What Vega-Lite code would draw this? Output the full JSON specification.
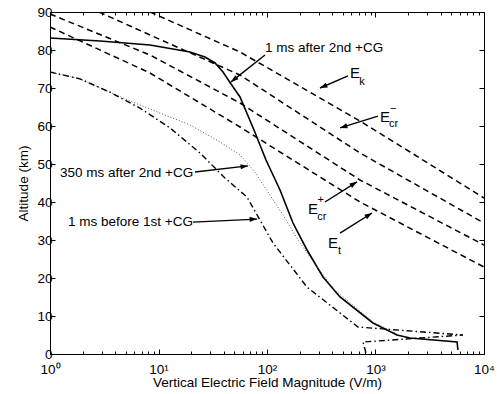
{
  "$schema": "https://vega.github.io/schema/vega-lite/v6.json",
  "width": 434,
  "height": 342,
  "autosize": {"type": "none"},
  "padding": {"left": 50, "top": 12, "right": 13, "bottom": 40},
  "background": "white",
  "config": {
    "view": {"stroke": "black", "strokeWidth": 1},
    "font": "Liberation Sans",
    "axis": {"domain": false, "grid": false, "labelFont": "Liberation Sans", "titleFont": "Liberation Sans", "labelColor": "black", "titleColor": "black", "tickColor": "black", "labelFontSize": 13.5, "titleFontSize": 13.5, "titleFontWeight": "normal", "labelOverlap": false, "labelBound": false, "labelFlush": false}
  },
  "datasets": {
    "curves": [
      {"s": "Ek", "style": "dash", "i": 0, "v": 8.35, "alt": 90},
      {"s": "Ek", "style": "dash", "i": 1, "v": 56.4, "alt": 79.47},
      {"s": "Ek", "style": "dash", "i": 2, "v": 719.7, "alt": 61.32},
      {"s": "Ek", "style": "dash", "i": 3, "v": 2080, "alt": 53.16},
      {"s": "Ek", "style": "dash", "i": 4, "v": 10000, "alt": 41.05},
      {"s": "Ecrm", "style": "dash", "i": 0, "v": 2.83, "alt": 90},
      {"s": "Ecrm", "style": "dash", "i": 1, "v": 8.35, "alt": 83.95},
      {"s": "Ecrm", "style": "dash", "i": 2, "v": 56.4, "alt": 73.42},
      {"s": "Ecrm", "style": "dash", "i": 3, "v": 719.7, "alt": 52.89},
      {"s": "Ecrm", "style": "dash", "i": 4, "v": 10000, "alt": 34.47},
      {"s": "Ecrp", "style": "dash", "i": 0, "v": 1, "alt": 89.47},
      {"s": "Ecrp", "style": "dash", "i": 1, "v": 8.35, "alt": 78.68},
      {"s": "Ecrp", "style": "dash", "i": 2, "v": 56.4, "alt": 66.05},
      {"s": "Ecrp", "style": "dash", "i": 3, "v": 719.7, "alt": 45.79},
      {"s": "Ecrp", "style": "dash", "i": 4, "v": 10000, "alt": 28.68},
      {"s": "Et", "style": "dash", "i": 0, "v": 1, "alt": 86.05},
      {"s": "Et", "style": "dash", "i": 1, "v": 8.35, "alt": 73.95},
      {"s": "Et", "style": "dash", "i": 2, "v": 56.4, "alt": 59.74},
      {"s": "Et", "style": "dash", "i": 3, "v": 719.7, "alt": 40},
      {"s": "Et", "style": "dash", "i": 4, "v": 10000, "alt": 22.89},
      {"s": "after2", "style": "solid", "i": 0, "v": 1, "alt": 83.16},
      {"s": "after2", "style": "solid", "i": 1, "v": 2.89, "alt": 82.37},
      {"s": "after2", "style": "solid", "i": 2, "v": 8.35, "alt": 81.32},
      {"s": "after2", "style": "solid", "i": 3, "v": 19.5, "alt": 79.47},
      {"s": "after2", "style": "solid", "i": 4, "v": 26.8, "alt": 78.16},
      {"s": "after2", "style": "solid", "i": 5, "v": 33.2, "alt": 76.58},
      {"s": "after2", "style": "solid", "i": 6, "v": 39.3, "alt": 74.21},
      {"s": "after2", "style": "solid", "i": 7, "v": 46.6, "alt": 71.05},
      {"s": "after2", "style": "solid", "i": 8, "v": 56.4, "alt": 67.63},
      {"s": "after2", "style": "solid", "i": 9, "v": 75.9, "alt": 58.95},
      {"s": "after2", "style": "solid", "i": 10, "v": 97.9, "alt": 51.05},
      {"s": "after2", "style": "solid", "i": 11, "v": 131.8, "alt": 43.16},
      {"s": "after2", "style": "solid", "i": 12, "v": 173.6, "alt": 34.47},
      {"s": "after2", "style": "solid", "i": 13, "v": 233.8, "alt": 27.37},
      {"s": "after2", "style": "solid", "i": 14, "v": 328.2, "alt": 20.26},
      {"s": "after2", "style": "solid", "i": 15, "v": 470.8, "alt": 15},
      {"s": "after2", "style": "solid", "i": 16, "v": 948, "alt": 8.16},
      {"s": "after2", "style": "solid", "i": 17, "v": 1578, "alt": 5},
      {"s": "after2", "style": "solid", "i": 18, "v": 2080, "alt": 4.21},
      {"s": "after2", "style": "solid", "i": 19, "v": 5640, "alt": 3.16},
      {"s": "after2", "style": "solid", "i": 20, "v": 5760, "alt": 1.05},
      {"s": "after350", "style": "dot", "i": 0, "v": 1, "alt": 74.2},
      {"s": "after350", "style": "dot", "i": 1, "v": 1.89, "alt": 72.4},
      {"s": "after350", "style": "dot", "i": 2, "v": 3.57, "alt": 68.9},
      {"s": "after350", "style": "dot", "i": 3, "v": 5.46, "alt": 66.6},
      {"s": "after350", "style": "dot", "i": 4, "v": 10.3, "alt": 63.4},
      {"s": "after350", "style": "dot", "i": 5, "v": 19.5, "alt": 60.3},
      {"s": "after350", "style": "dot", "i": 6, "v": 36.9, "alt": 55.8},
      {"s": "after350", "style": "dot", "i": 7, "v": 56.4, "alt": 52.4},
      {"s": "after350", "style": "dot", "i": 8, "v": 77.5, "alt": 47.9},
      {"s": "after350", "style": "dot", "i": 9, "v": 102.1, "alt": 42.6},
      {"s": "after350", "style": "dot", "i": 10, "v": 140.4, "alt": 36.6},
      {"s": "after350", "style": "dot", "i": 11, "v": 193.1, "alt": 30},
      {"s": "after350", "style": "dot", "i": 12, "v": 295, "alt": 22.6},
      {"s": "after350", "style": "dot", "i": 13, "v": 423.4, "alt": 16.8},
      {"s": "after350", "style": "dot", "i": 14, "v": 948, "alt": 8.4},
      {"s": "after350", "style": "dot", "i": 15, "v": 1578, "alt": 5.3},
      {"s": "before1", "style": "dashdot", "i": 0, "v": 1, "alt": 74.2},
      {"s": "before1", "style": "dashdot", "i": 1, "v": 1.89, "alt": 72.4},
      {"s": "before1", "style": "dashdot", "i": 2, "v": 3.57, "alt": 68.9},
      {"s": "before1", "style": "dashdot", "i": 3, "v": 6.75, "alt": 64.7},
      {"s": "before1", "style": "dashdot", "i": 4, "v": 12.76, "alt": 59.5},
      {"s": "before1", "style": "dashdot", "i": 5, "v": 24.1, "alt": 52.9},
      {"s": "before1", "style": "dashdot", "i": 6, "v": 41.0, "alt": 46.3},
      {"s": "before1", "style": "dashdot", "i": 7, "v": 65.4, "alt": 41.3},
      {"s": "before1", "style": "dashdot", "i": 8, "v": 113.6, "alt": 29.2},
      {"s": "before1", "style": "dashdot", "i": 9, "v": 233.8, "alt": 17.6},
      {"s": "before1", "style": "dashdot", "i": 10, "v": 470.8, "alt": 10.8},
      {"s": "before1", "style": "dashdot", "i": 11, "v": 690, "alt": 7.1},
      {"s": "before1", "style": "dashdot", "i": 12, "v": 6405, "alt": 5},
      {"s": "before1", "style": "dashdot", "i": 13, "v": 767, "alt": 3.16},
      {"s": "before1", "style": "dashdot", "i": 14, "v": 817.6, "alt": 0.26}
    ],
    "arrows": [
      {"x1": 95.9, "y1": 78.7, "x2": 46.6, "y2": 71.6},
      {"x1": 557.9, "y1": 73.2, "x2": 308, "y2": 70},
      {"x1": 1054, "y1": 62.6, "x2": 470.8, "y2": 59.5},
      {"x1": 342.4, "y1": 40, "x2": 675.2, "y2": 45.3},
      {"x1": 470.8, "y1": 31.8, "x2": 928.5, "y2": 37.1},
      {"x1": 21.7, "y1": 47.9, "x2": 66.8, "y2": 49.5},
      {"x1": 20.8, "y1": 34.7, "x2": 80.9, "y2": 35.5}
    ],
    "labels": [
      {"t": "1 ms after 2nd +CG", "x": 95.9, "y": 80.5},
      {"t": "350 ms after 2nd +CG", "x": 1.236, "y": 47.6},
      {"t": "1 ms before 1st +CG", "x": 1.465, "y": 34.7}
    ],
    "bigE": [
      {"t": "E", "x": 582, "y": 73.9},
      {"t": "E", "x": 1100, "y": 62.4},
      {"t": "E", "x": 238.8, "y": 38.2},
      {"t": "E", "x": 364.9, "y": 29.2}
    ],
    "subs": [
      {"t": "k", "x": 710, "y": 71.6},
      {"t": "cr", "x": 1330, "y": 60.4},
      {"t": "−", "x": 1360, "y": 64.6},
      {"t": "+", "x": 292, "y": 40.4},
      {"t": "cr", "x": 290, "y": 36.0},
      {"t": "t", "x": 452, "y": 27.0}
    ]
  },
  "layer": [
    {
      "data": {"name": "curves"},
      "transform": [{"filter": "datum.style == 'dash'"}],
      "mark": {"type": "line", "strokeDash": [6, 4], "strokeWidth": 1.5, "color": "black", "clip": true},
      "encoding": {
        "x": {"field": "v", "type": "quantitative", "scale": {"type": "log", "domain": [1, 10000]},
          "axis": {"orient": "bottom", "title": "Vertical Electric Field Magnitude (V/m)",
            "values": [1,2,3,4,5,6,7,8,9,10,20,30,40,50,60,70,80,90,100,200,300,400,500,600,700,800,900,1000,2000,3000,4000,5000,6000,7000,8000,9000,10000],
            "labelExpr": "datum.value == 1 ? '10⁰' : datum.value == 10 ? '10¹' : datum.value == 100 ? '10²' : datum.value == 1000 ? '10³' : datum.value == 10000 ? '10⁴' : ''",
            "tickSize": {"condition": {"test": "datum.value == 1 || datum.value == 10 || datum.value == 100 || datum.value == 1000 || datum.value == 10000", "value": -5}, "value": -3},
            "labelPadding": 13, "titlePadding": -2}},
        "y": {"field": "alt", "type": "quantitative", "scale": {"domain": [0, 90], "nice": false, "zero": false},
          "axis": {"orient": "left", "title": "Altitude (km)", "values": [0,10,20,30,40,50,60,70,80,90], "tickSize": -5, "labelPadding": 3, "titlePadding": 6}},
        "detail": {"field": "s"},
        "order": {"field": "i", "type": "quantitative"}
      }
    },
    {
      "data": {"name": "curves"},
      "transform": [{"filter": "datum.style == 'solid'"}],
      "mark": {"type": "line", "strokeWidth": 1.6, "color": "black", "clip": true},
      "encoding": {
        "x": {"field": "v", "type": "quantitative", "scale": {"type": "log", "domain": [1, 10000]},
          "axis": {"orient": "top", "title": null, "labels": false,
            "values": [1,2,3,4,5,6,7,8,9,10,20,30,40,50,60,70,80,90,100,200,300,400,500,600,700,800,900,1000,2000,3000,4000,5000,6000,7000,8000,9000,10000],
            "tickSize": {"condition": {"test": "datum.value == 1 || datum.value == 10 || datum.value == 100 || datum.value == 1000 || datum.value == 10000", "value": -5}, "value": -3}}},
        "y": {"field": "alt", "type": "quantitative", "scale": {"domain": [0, 90], "nice": false, "zero": false},
          "axis": {"orient": "right", "title": null, "labels": false, "values": [0,10,20,30,40,50,60,70,80,90], "tickSize": -5}},
        "order": {"field": "i", "type": "quantitative"}
      }
    },
    {
      "data": {"name": "curves"},
      "transform": [{"filter": "datum.style == 'dot'"}],
      "mark": {"type": "line", "strokeDash": [1, 2], "strokeWidth": 1, "color": "#555555", "clip": true},
      "encoding": {
        "x": {"field": "v", "type": "quantitative", "axis": null},
        "y": {"field": "alt", "type": "quantitative", "axis": null},
        "order": {"field": "i", "type": "quantitative"}
      }
    },
    {
      "data": {"name": "curves"},
      "transform": [{"filter": "datum.style == 'dashdot'"}],
      "mark": {"type": "line", "strokeDash": [6, 3, 1.5, 3], "strokeWidth": 1.4, "color": "black", "clip": true},
      "encoding": {
        "x": {"field": "v", "type": "quantitative", "axis": null},
        "y": {"field": "alt", "type": "quantitative", "axis": null},
        "order": {"field": "i", "type": "quantitative"}
      }
    },
    {
      "data": {"name": "arrows"},
      "mark": {"type": "rule", "strokeWidth": 1.4, "color": "black"},
      "encoding": {
        "x": {"field": "x1", "type": "quantitative", "axis": null},
        "x2": {"field": "x2"},
        "y": {"field": "y1", "type": "quantitative", "axis": null},
        "y2": {"field": "y2"}
      }
    },
    {
      "data": {"name": "arrows"},
      "transform": [{"calculate": "atan2(-3.8 * (datum.y2 - datum.y1), 108.5 * log(datum.x2 / datum.x1) / LN10) * 180 / PI", "as": "ang"}],
      "mark": {"type": "point", "shape": "M0,0L-1,-0.35L-1,0.35Z", "filled": true, "color": "black", "opacity": 1, "size": 220},
      "encoding": {
        "x": {"field": "x2", "type": "quantitative", "axis": null},
        "y": {"field": "y2", "type": "quantitative", "axis": null},
        "angle": {"field": "ang", "type": "quantitative", "scale": null}
      }
    },
    {
      "data": {"name": "labels"},
      "mark": {"type": "text", "align": "left", "baseline": "middle", "fontSize": 13.5, "font": "Liberation Sans", "color": "black"},
      "encoding": {
        "x": {"field": "x", "type": "quantitative", "axis": null},
        "y": {"field": "y", "type": "quantitative", "axis": null},
        "text": {"field": "t"}
      }
    },
    {
      "data": {"name": "bigE"},
      "mark": {"type": "text", "align": "left", "baseline": "middle", "fontSize": 15, "font": "Liberation Sans", "color": "black"},
      "encoding": {
        "x": {"field": "x", "type": "quantitative", "axis": null},
        "y": {"field": "y", "type": "quantitative", "axis": null},
        "text": {"field": "t"}
      }
    },
    {
      "data": {"name": "subs"},
      "mark": {"type": "text", "align": "left", "baseline": "middle", "fontSize": 11, "font": "Liberation Sans", "color": "black"},
      "encoding": {
        "x": {"field": "x", "type": "quantitative", "axis": null},
        "y": {"field": "y", "type": "quantitative", "axis": null},
        "text": {"field": "t"}
      }
    }
  ],
  "resolve": {"axis": {"x": "independent", "y": "independent"}}
}
